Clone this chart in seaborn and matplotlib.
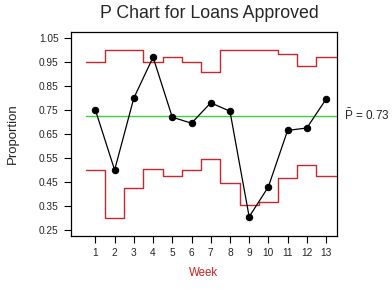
import numpy as np
import pandas as pd
import matplotlib
matplotlib.use("Agg")
import matplotlib.pyplot as plt
import seaborn as sns

weeks = [1, 2, 3, 4, 5, 6, 7, 8, 9, 10, 11, 12, 13]
proportion = [0.75, 0.50, 0.80, 0.97, 0.72, 0.695, 0.78, 0.745, 0.305, 0.43, 0.665, 0.675, 0.795]
ucl = [0.95, 1.00, 1.00, 0.95, 0.97, 0.95, 0.91, 1.00, 1.00, 1.00, 0.985, 0.935, 0.97]
lcl = [0.50, 0.30, 0.425, 0.505, 0.475, 0.50, 0.545, 0.445, 0.355, 0.365, 0.465, 0.52, 0.475]
p_bar = 0.727
p_bar_label = "0.73"
yticks = [0.25, 0.35, 0.45, 0.55, 0.65, 0.75, 0.85, 0.95, 1.05]

sns.set_style("white")
plt.rcParams['font.family'] = ['Liberation Sans', 'DejaVu Sans']
plt.rcParams['mathtext.fontset'] = 'custom'
plt.rcParams['mathtext.rm'] = 'Liberation Sans'

fig = plt.figure(figsize=(3.92, 2.89), dpi=100)
ax = fig.add_axes([71/392, 1 - 236/289, (337 - 71)/392, (236 - 32)/289])

red = "#c8282d"
edges = [w - 0.5 for w in weeks] + [weeks[-1] + 0.5]
step_df = pd.DataFrame({"x": edges, "ucl": ucl + [ucl[-1]], "lcl": lcl + [lcl[-1]]})
sns.lineplot(data=step_df, x="x", y="ucl", ax=ax, color=red, lw=1.0,
             drawstyle="steps-post", estimator=None, sort=False)
sns.lineplot(data=step_df, x="x", y="lcl", ax=ax, color=red, lw=1.0,
             drawstyle="steps-post", estimator=None, sort=False)

cl_df = pd.DataFrame({"x": [edges[0], edges[-1]], "y": [p_bar, p_bar]})
sns.lineplot(data=cl_df, x="x", y="y", ax=ax, color="#3cd23c", lw=1.0, estimator=None)

df = pd.DataFrame({"week": weeks, "p": proportion})
sns.lineplot(data=df, x="week", y="p", ax=ax, color="black", lw=0.9,
             marker="o", markersize=4.6, markeredgecolor="black", estimator=None)

ax.set_xlim(-0.27, 13.57)
ax.set_ylim(0.225, 1.075)
ax.set_xticks(weeks)
ax.set_xticklabels([str(w) for w in weeks], fontsize=7.3)
ax.set_yticks(yticks)
ax.set_yticklabels([f"{t:.2f}" for t in yticks], fontsize=7.3)
ax.tick_params(axis="both", direction="out", length=5, width=0.8, color="black",
               bottom=True, left=True, pad=4)
for s in ax.spines.values():
    s.set_visible(True)
    s.set_color("black")
    s.set_linewidth(0.9)

ax.set_xlabel("Week", color="#d02020", fontsize=8.3, labelpad=6)
ax.set_ylabel("Proportion", fontsize=9.5, labelpad=14)
fig.text(209/392, 1 - 13/289, "P Chart for Loans Approved", ha="center", va="center", fontsize=12.8)
ax.text(1.025, (p_bar - 0.225) / (1.075 - 0.225), r"$\bar{\mathrm{P}}$ = " + p_bar_label,
        transform=ax.transAxes, ha="left", va="center", fontsize=8.5)

fig.savefig("out.png", dpi=100)
